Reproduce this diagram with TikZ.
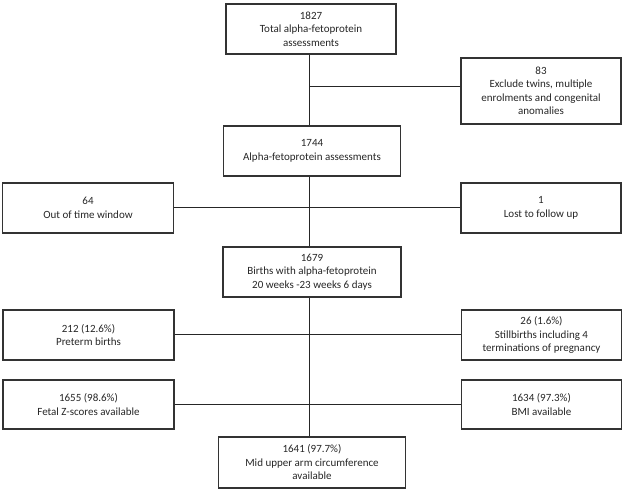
\documentclass[tikz,border=0pt]{standalone}
\usepackage{fontspec}
\setmainfont{Carlito}
\tikzset{
  box/.style={draw=black!80, line width=1.2pt, align=center, inner sep=0pt,
    font=\fontsize{11}{13.5}\selectfont, text=black!85},
  sidebox/.style={box, minimum width=160pt, minimum height=50pt},
  leftbox/.style={box, minimum width=171pt, minimum height=50pt},
  link/.style={draw=black!85, line width=1pt}
}

\begin{document}
\begin{tikzpicture}[x=1pt,y=-1pt]
  \useasboundingbox (0,0) rectangle (625,492);

  \node[box, minimum width=170pt, minimum height=50pt] (total) at (311,29)
    {1827\\Total alpha-fetoprotein\\assessments};
  \node[sidebox, minimum height=66pt] (excl) at (541,91)
    {83\\Exclude twins, multiple\\enrolments and congenital\\anomalies};
  \node[box, minimum width=177pt, minimum height=50pt] (afp) at (312,151)
    {1744\\Alpha-fetoprotein assessments};
  \node[leftbox] (window) at (88,208) {64\\Out of time window};
  \node[sidebox] (lost) at (541,208) {1\\Lost to follow up};
  \node[box, minimum width=178pt, minimum height=50pt] (births) at (312,272)
    {1679\\Births with alpha-fetoprotein\\20 weeks -23 weeks 6 days};
  \node[leftbox] (preterm) at (88.5,335) {212 (12.6\%)\\Preterm births};
  \node[sidebox] (still) at (541.5,335)
    {26 (1.6\%)\\Stillbirths including 4\\terminations of pregnancy};
  \node[leftbox, minimum height=49pt] (fetal) at (88.5,404.5)
    {1655 (98.6\%)\\Fetal Z-scores available};
  \node[sidebox, minimum height=49pt] (bmi) at (541.5,404.5)
    {1634 (97.3\%)\\BMI available};
  \node[box, minimum width=187pt, minimum height=51pt] (muac) at (312,462.5)
    {1641 (97.7\%)\\Mid upper arm circumference\\available};

  \coordinate (spine) at (309,0);
  \coordinate (split) at (309,87);

  \draw[link] (total.south -| spine) -- (afp.north -| spine);
  \draw[link] (split) -- (split -| excl.west);
  \draw[link] (afp.south -| spine) -- (births.north -| spine);
  \draw[link] (window) -- (lost);
  \draw[link] (births.south -| spine) -- (muac.north -| spine);
  \draw[link] (preterm) -- (still);
  \draw[link] (fetal) -- (bmi);
\end{tikzpicture}
\end{document}
